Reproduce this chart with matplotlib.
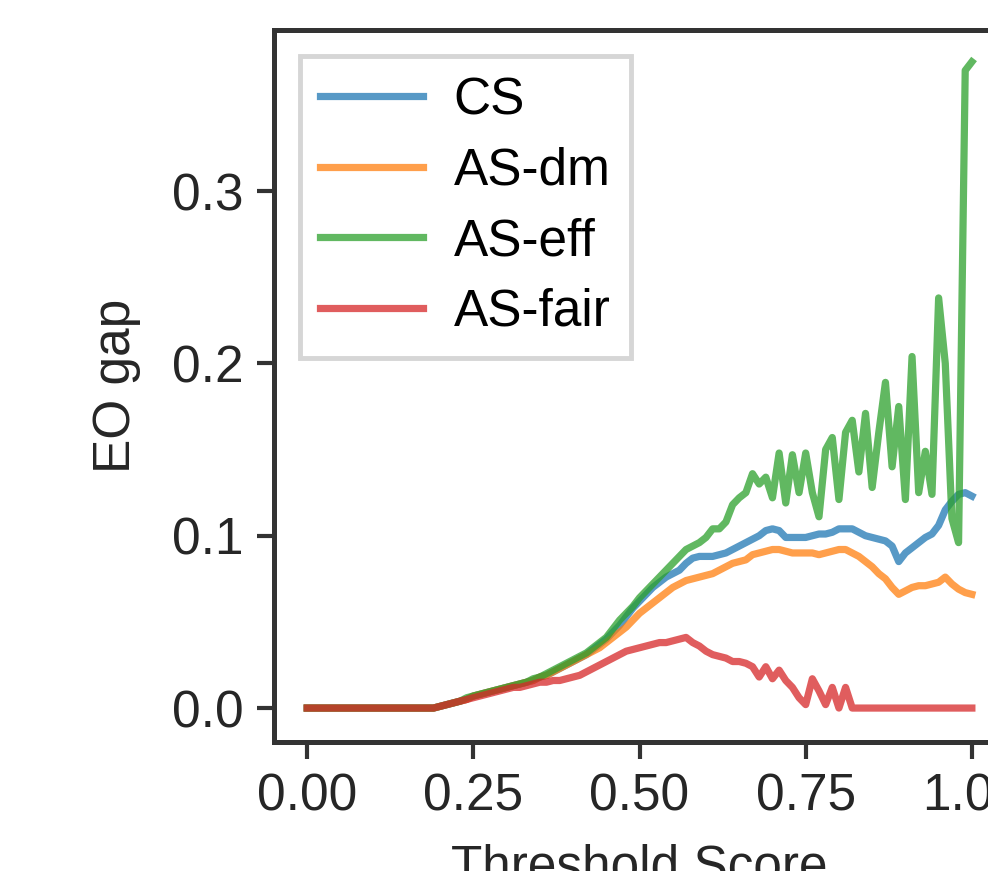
import numpy as np
import matplotlib
matplotlib.use('Agg')
import matplotlib.pyplot as plt

plt.rcParams['font.family'] = ['Liberation Sans', 'DejaVu Sans']

# threshold grid (0.00 .. 1.00, step 0.01)
thresholds = np.linspace(0, 1, 101)

# EO gap per method
cs = [0, 0, 0, 0, 0, 0, 0, 0, 0, 0,
      0, 0, 0, 0, 0, 0, 0, 0, 0, 0,
      .001, .002, .003, .004, .005, .007, .008, .009, .010, .011,
      .012, .013, .014, .015, .016, .018, .019, .021, .023, .025,
      .027, .029, .031, .034, .037, .040, .044, .048, .053, .058,
      .062, .066, .070, .073, .076, .078, .080, .084, .087, .088,
      .088, .088, .089, .090, .092, .094, .096, .098, .100, .103,
      .104, .103, .099, .099, .099, .099, .100, .101, .101, .102,
      .104, .104, .104, .102, .100, .099, .098, .097, .094, .085,
      .090, .093, .096, .099, .101, .106, .115, .120, .124, .125,
      .123]
as_dm = [0, 0, 0, 0, 0, 0, 0, 0, 0, 0,
         0, 0, 0, 0, 0, 0, 0, 0, 0, 0,
         .001, .002, .003, .004, .005, .007, .008, .009, .010, .011,
         .012, .013, .014, .015, .016, .018, .019, .021, .023, .025,
         .027, .029, .031, .033, .035, .038, .041, .044, .047, .051,
         .055, .058, .061, .064, .067, .070, .072, .074, .075, .076,
         .077, .078, .080, .082, .084, .085, .086, .089, .090, .091,
         .092, .092, .091, .090, .090, .090, .090, .089, .090, .091,
         .092, .092, .090, .088, .085, .082, .078, .075, .070, .066,
         .068, .070, .071, .071, .072, .073, .076, .072, .069, .067,
         .066]
as_eff = [0, 0, 0, 0, 0, 0, 0, 0, 0, 0,
          0, 0, 0, 0, 0, 0, 0, 0, 0, 0,
          .001, .002, .003, .004, .006, .007, .008, .009, .010, .011,
          .012, .013, .014, .015, .017, .018, .020, .022, .024, .026,
          .028, .030, .032, .035, .038, .041, .046, .051, .055, .059,
          .064, .068, .072, .076, .080, .084, .088, .092, .094, .096,
          .099, .104, .104, .108, .118, .122, .125, .136, .130, .134,
          .122, .148, .119, .147, .125, .148, .125, .111, .150, .157,
          .121, .160, .167, .137, .171, .128, .160, .189, .140, .175,
          .121, .204, .125, .149, .124, .238, .200, .110, .096, .370,
          .375]
as_fair = [0, 0, 0, 0, 0, 0, 0, 0, 0, 0,
           0, 0, 0, 0, 0, 0, 0, 0, 0, 0,
           .001, .002, .003, .004, .005, .006, .007, .008, .009, .010,
           .011, .012, .012, .013, .014, .015, .015, .016, .016, .017,
           .018, .019, .021, .023, .025, .027, .029, .031, .033, .034,
           .035, .036, .037, .038, .038, .039, .040, .041, .038, .036,
           .033, .031, .030, .029, .027, .027, .026, .024, .018, .024,
           .017, .022, .016, .012, .006, .002, .017, .010, .002, .012,
           0, .012, 0, 0, 0, 0, 0, 0, 0, 0,
           0, 0, 0, 0, 0, 0, 0, 0, 0, 0,
           0]

series = [('CS', cs), ('AS-dm', as_dm), ('AS-eff', as_eff), ('AS-fair', as_fair)]
colors = ['tab:blue', 'tab:orange', 'tab:green', 'tab:red']

fig = plt.figure(figsize=(9.88, 8.71), dpi=100)
ax = fig.add_axes([0.2773, 0.1481, 0.740, 0.8175])

for (name, vals), c in zip(series, colors):
    ax.plot(thresholds, vals, color=c, lw=5.2, alpha=0.75, label=name)

ax.set_xlim(-0.05, 1.05)
ax.set_ylim(-0.0197, 0.3935)
ax.set_xticks([0, 0.25, 0.5, 0.75, 1.0])
ax.set_xticklabels(['0.00', '0.25', '0.50', '0.75', '1.00'])
ax.set_yticks([0, 0.1, 0.2, 0.3])
ax.set_yticklabels(['0.0', '0.1', '0.2', '0.3'])
ax.tick_params(labelsize=37, length=12, width=3, pad=10, color='#333333', labelcolor='#262626')
for s in ax.spines.values():
    s.set_linewidth(3.6)
    s.set_color('#333333')

ax.set_xlabel('Threshold Score', fontsize=37, color='#262626', labelpad=16)
ax.set_ylabel('EO gap', fontsize=37, color='#262626', labelpad=22)

leg = ax.legend(loc='upper left', fontsize=37, fancybox=False, framealpha=1,
                labelspacing=0.42, handlelength=2.0, handletextpad=0.6,
                borderpad=0.4)
leg.get_frame().set_edgecolor('#d6d6d6')
leg.get_frame().set_linewidth(3.5)

fig.savefig('out.png', dpi=100)
